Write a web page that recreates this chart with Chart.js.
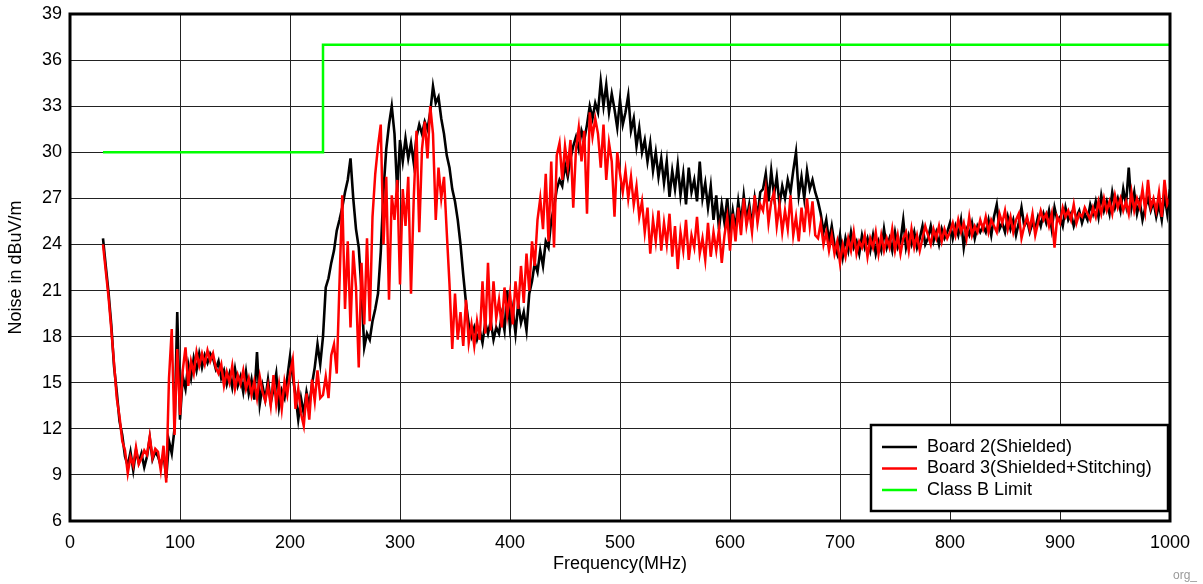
<!DOCTYPE html>
<html>
<head>
<meta charset="utf-8">
<script src="https://cdn.jsdelivr.net/npm/chart.js@4.4.0/dist/chart.umd.min.js"></script>
<style>
    html, body { margin: 0; padding: 0; background: #fff; }
    #wrap { width: 1203px; height: 584px; }
</style>
</head>
<body>
<div id="wrap"><canvas id="emiChart" width="1203" height="584"></canvas></div>
<script>
// frequency grid of the scans: 30 MHz to 1000 MHz, one sample every 2.5 MHz
const FREQ_START = 30;
const FREQ_STEP = 2.5;

// Board 2 (Shielded), dBuV/m
const board2 = [
    24.4, 22.6, 20.9, 18.8, 16.1, 14.4, 12.5, 11.6, 10.2, 9.6, 10.5, 9.3, 10.6, 9.8, 10.4, 9.5, 10.2, 11.4, 10.0, 10.5,
    10.2, 9.6, 10.4, 8.8, 11.2, 10.4, 12.0, 19.6, 12.6, 15.4, 14.6, 16.2, 15.3, 16.6, 15.8, 16.9, 16.0, 16.8, 16.3, 16.9,
    16.6, 15.9, 16.4, 15.3, 15.8, 14.9, 15.6, 14.7, 15.9, 14.8, 15.4, 14.4, 15.7, 14.3, 15.2, 13.9, 17.0, 13.6, 14.8, 13.9,
    15.2, 13.7, 14.6, 15.6, 13.4, 14.5, 14.0, 15.3, 16.7, 15.4, 14.2, 12.6, 14.0, 13.0, 14.4, 13.5, 14.9, 16.0, 17.5, 16.2,
    18.0, 21.2, 21.8, 22.8, 23.6, 24.9, 25.6, 26.4, 27.4, 28.2, 29.6, 27.0, 25.0, 23.8, 21.0, 17.3, 18.2, 17.8, 19.0, 19.8,
    20.8, 23.5, 27.5, 30.2, 31.8, 33.0, 31.2, 27.4, 30.8, 29.4, 30.9, 29.6, 30.6, 29.3, 31.0, 31.8, 31.2, 32.0, 31.5, 32.6,
    34.3, 33.2, 33.6, 32.2, 31.2, 29.8, 29.0, 27.6, 26.8, 25.6, 24.0, 22.0, 20.2, 18.8, 18.0, 18.6, 17.8, 18.4, 17.6, 18.9,
    18.2, 19.0, 17.8, 18.6, 18.2, 19.4, 18.4, 21.0, 18.6, 19.8, 18.2, 20.2, 18.9, 19.6, 18.4, 20.8, 21.6, 22.8, 22.2, 23.6,
    22.6, 24.2, 23.8, 25.6, 26.4, 27.6, 28.2, 27.8, 29.2, 28.4, 29.6, 30.4, 31.0, 30.2, 31.4, 30.8, 31.8, 33.0, 32.2, 33.2,
    32.6, 34.6, 33.0, 34.4, 32.6, 33.8, 32.8, 31.6, 33.4, 31.8, 32.6, 33.7, 31.4, 32.2, 30.4, 31.6, 30.0, 30.8, 29.4, 30.6,
    28.8, 30.0, 28.4, 29.6, 28.0, 29.4, 27.1, 28.8, 27.6, 29.2, 27.2, 28.6, 26.6, 29.0, 27.4, 28.2, 26.8, 29.4, 27.0, 28.0,
    26.4, 27.8, 25.6, 27.2, 25.0, 26.6, 25.4, 27.0, 24.8, 26.2, 25.0, 26.8, 25.4, 27.2, 25.6, 26.6, 25.2, 27.0, 25.8, 27.4,
    27.6, 28.6, 26.8, 28.8, 27.2, 28.4, 26.6, 27.8, 27.0, 28.2, 27.4, 28.8, 30.0, 27.2, 28.4, 27.0, 28.8, 27.6, 28.2, 27.4,
    26.8, 26.0, 24.8, 25.6, 24.2, 25.2, 24.0, 23.4, 24.6, 23.2, 24.4, 23.6, 24.8, 23.8, 24.2, 23.4, 24.6, 23.8, 24.4, 23.6,
    24.6, 23.4, 24.2, 23.6, 25.0, 23.8, 24.4, 23.6, 24.8, 23.8, 24.2, 25.6, 23.8, 24.6, 24.0, 24.8, 23.8, 24.4, 25.2, 24.0,
    24.4, 25.2, 24.2, 24.8, 24.0, 25.0, 24.4, 24.8, 25.4, 24.4, 25.2, 24.6, 25.6, 23.8, 25.0, 24.6, 25.4, 24.4, 25.2, 24.8,
    25.2, 24.8, 25.6, 24.6, 25.8, 26.6, 25.0, 25.4, 24.8, 25.8, 25.0, 25.6, 24.6, 25.4, 26.4, 25.2, 25.6, 24.8, 25.4, 25.0,
    25.8, 25.2, 26.0, 25.4, 26.2, 25.0, 26.4, 25.6, 25.8, 25.2, 26.4, 25.6, 26.0, 25.2, 25.8, 26.2, 25.4, 26.0, 25.6, 26.6,
    26.0, 26.8, 25.8, 27.2, 26.2, 26.8, 26.0, 27.4, 26.4, 27.0, 26.2, 27.6, 26.6, 29.0, 26.4, 27.4, 26.0, 26.8, 25.6, 26.4,
    27.0, 26.2, 26.8, 25.8, 26.6, 25.6, 27.2, 26.0, 27.6
];

// Board 3 (Shielded+Stitching), dBuV/m
const board3 = [
    24.0, 22.3, 20.6, 18.5, 16.3, 14.0, 12.8, 11.2, 10.6, 9.1, 10.2, 9.6, 10.8, 9.7, 10.1, 10.6, 10.3, 11.5, 10.1, 10.7,
    10.5, 9.3, 10.9, 8.5, 15.3, 18.5, 11.6, 17.2, 12.9, 15.8, 17.3, 14.8, 16.4, 15.6, 17.0, 16.1, 16.9, 16.2, 17.1, 16.4,
    16.9, 16.0, 15.6, 16.2, 14.8, 15.7, 15.0, 16.1, 14.6, 15.5, 14.9, 15.8, 14.6, 15.3, 14.2, 15.1, 14.0, 15.4, 14.4, 13.8,
    14.8, 13.5, 15.5, 13.6, 14.9, 13.3, 15.1, 14.2, 15.6, 16.5, 13.3, 14.6, 13.0, 12.2, 14.3, 12.6, 15.2, 13.8, 15.8, 14.0,
    14.2, 15.4, 14.0, 16.8, 17.5, 15.6, 21.5, 27.2, 19.8, 24.2, 18.6, 23.6, 21.2, 16.0, 22.8, 18.8, 24.4, 19.0, 25.8, 28.6,
    30.4, 31.8, 24.0, 28.4, 20.4, 27.2, 25.6, 28.2, 21.4, 27.6, 25.2, 28.4, 20.8, 27.0, 31.4, 24.8, 30.2, 32.0, 29.6, 33.0,
    31.2, 25.6, 29.0, 27.0, 28.4, 24.8, 21.4, 17.2, 20.8, 17.8, 19.6, 17.4, 20.4, 17.6, 18.8, 17.4, 19.0, 17.8, 21.6, 18.2,
    22.8, 18.4, 21.6, 19.2, 20.4, 18.6, 21.2, 19.4, 20.8, 18.8, 21.6, 19.8, 22.6, 20.2, 23.4, 21.0, 24.2, 22.6, 25.6, 27.0,
    25.0, 28.6, 24.2, 29.4, 23.8, 29.8, 30.6, 28.2, 30.4, 29.0, 30.8, 26.4, 30.2, 31.6, 29.4, 31.4, 26.0, 32.6, 31.0, 32.2,
    31.2, 29.0, 31.8, 28.2, 30.6, 29.4, 25.8, 30.0, 28.6, 27.4, 28.8, 27.0, 28.4, 26.6, 27.8, 25.8, 26.8, 24.8, 26.4, 23.4,
    25.6, 24.2, 26.2, 23.6, 25.4, 24.0, 26.0, 23.2, 25.2, 22.4, 24.8, 23.6, 25.6, 23.0, 24.6, 23.8, 25.8, 23.4, 24.4, 23.0,
    25.4, 23.2, 24.8, 23.6, 25.0, 22.8, 24.6, 25.8, 23.6, 26.0, 24.2, 26.4, 24.6, 27.0, 25.2, 26.2, 24.8, 27.2, 25.4, 26.6,
    26.2, 27.6, 25.4, 26.8, 27.4, 25.2, 26.6, 24.8, 26.2, 25.0, 27.2, 24.6, 25.8, 24.2, 26.4, 24.8, 27.0, 25.2, 26.8, 24.6,
    24.4, 25.4, 24.0, 24.8, 23.6, 24.6, 23.4, 24.2, 22.8, 24.0, 23.2, 24.4, 23.6, 24.8, 23.4, 24.2, 23.8, 24.6, 23.2, 24.4,
    23.8, 24.8, 23.4, 24.6, 23.6, 24.4, 23.8, 25.0, 23.6, 24.6, 23.4, 24.4, 24.8, 23.6, 25.0, 23.8, 24.6, 23.6, 24.4, 25.2,
    24.6, 24.0, 25.0, 24.4, 25.2, 24.2, 25.0, 24.4, 24.8, 25.4, 24.6, 25.6, 24.8, 25.4, 24.4, 25.8, 24.6, 25.2, 24.8, 25.6,
    25.0, 25.8, 24.8, 25.6, 25.2, 24.8, 26.0, 25.4, 26.2, 25.0, 25.8, 24.8, 25.6, 26.0, 24.4, 25.2, 25.8, 25.0, 26.0, 24.6,
    25.4, 26.2, 25.6, 26.0, 25.2, 26.0, 23.8, 25.8, 25.4, 26.4, 25.8, 26.2, 25.6, 26.6, 25.4, 26.0, 25.8, 26.4, 26.0, 25.6,
    26.4, 25.8, 26.8, 26.0, 27.0, 26.2, 26.8, 26.0, 27.2, 26.4, 27.0, 26.2, 26.8, 26.0, 27.4, 26.2, 27.0, 26.4, 27.6, 26.2,
    28.2, 26.4, 27.0, 26.2, 27.4, 25.8, 28.2, 26.6, 27.0
];

// Class B limit (stepped)
const limitFreq = [30, 230, 230, 1000];
const limitLevel = [30, 30, 37, 37];

const xTicks = [0, 100, 200, 300, 400, 500, 600, 700, 800, 900, 1000];
const FONT = "'Liberation Sans', Arial, sans-serif";

/**
 *
 */
function _toPoints(values) {
    const points = [];
    for (let i = 0; i < values.length; i++) {
        points.push({ x: FREQ_START + i * FREQ_STEP, y: values[i] });
    }
    return points;
}

/**
 *
 */
function _limitPoints() {
    const points = [];
    for (let i = 0; i < limitFreq.length; i++) {
        points.push({ x: limitFreq[i], y: limitLevel[i] });
    }
    return points;
}

// frame around the plot, the boxed legend and the small tag
const framePlugin = {
    id: "frame",
    afterDatasetsDraw(chart) {
        const ctx = chart.ctx;
        const a = chart.chartArea;
        ctx.save();
        ctx.strokeStyle = "#000";
        ctx.lineWidth = 3;
        ctx.strokeRect(a.left, a.top, a.right - a.left, a.bottom - a.top);

        // legend box
        const w = 297;
        const h = 86;
        const bx = a.right - 2 - w;
        const by = a.bottom - 10 - h;
        ctx.fillStyle = "#fff";
        ctx.fillRect(bx, by, w, h);
        ctx.lineWidth = 2.5;
        ctx.strokeRect(bx, by, w, h);

        ctx.font = "18px " + FONT;
        ctx.textBaseline = "middle";
        const sets = chart.data.datasets;
        for (let i = 0; i < sets.length; i++) {
            const y = by + 22 + i * 21.5;
            ctx.strokeStyle = sets[i].borderColor;
            ctx.lineWidth = 2.5;
            ctx.beginPath();
            ctx.moveTo(bx + 11, y);
            ctx.lineTo(bx + 46, y);
            ctx.stroke();
            ctx.fillStyle = "#000";
            ctx.fillText(sets[i].label, bx + 56, y);
        }

        ctx.font = "12px " + FONT;
        ctx.fillStyle = "#999";
        ctx.textAlign = "right";
        ctx.fillText("org_", 1197, 576);
        ctx.restore();
    },
};

const config = {
    type: "line",
    data: {
        datasets: [
            {
                label: "Board 2(Shielded)",
                data: _toPoints(board2),
                borderColor: "#000000",
                borderWidth: 2.6,
                order: 2,
            },
            {
                label: "Board 3(Shielded+Stitching)",
                data: _toPoints(board3),
                borderColor: "#ff0000",
                borderWidth: 2.5,
                order: 1,
            },
            {
                label: "Class B Limit",
                data: _limitPoints(),
                borderColor: "#00ff00",
                borderWidth: 2.5,
                order: 0,
            },
        ],
    },
    options: {
        responsive: false,
        animation: false,
        parsing: false,
        elements: {
            point: { radius: 0 },
            line: { tension: 0, fill: false },
        },
        layout: {
            padding: { top: 14, right: 33, left: 0, bottom: 0 },
        },
        plugins: {
            legend: { display: false },
            tooltip: { enabled: false },
        },
        scales: {
            x: {
                type: "linear",
                min: 0,
                max: 1000,
                afterBuildTicks: (axis) => {
                    axis.ticks = xTicks.map((v) => ({ value: v }));
                },
                afterFit: (axis) => {
                    axis.height = 63;
                },
                grid: { color: "#222", lineWidth: 1, drawTicks: false },
                border: { display: false },
                ticks: {
                    color: "#000",
                    padding: 11,
                    maxRotation: 0,
                    font: { family: FONT, size: 18 },
                    callback: (v) => String(v),
                },
                title: {
                    display: true,
                    text: "Frequency(MHz)",
                    color: "#000",
                    font: { family: FONT, size: 18 },
                    padding: { top: 0, bottom: 9 },
                },
            },
            y: {
                min: 6,
                max: 39,
                ticks: {
                    stepSize: 3,
                    color: "#000",
                    padding: 8,
                    font: { family: FONT, size: 18 },
                },
                afterFit: (axis) => {
                    axis.width = 70;
                    axis.paddingTop = 0;
                    axis.paddingBottom = 0;
                },
                grid: { color: "#222", lineWidth: 1, drawTicks: false },
                border: { display: false },
                title: {
                    display: true,
                    text: "Noise in dBuV/m",
                    color: "#000",
                    font: { family: FONT, size: 18 },
                    padding: { top: 5, bottom: 0 },
                },
            },
        },
    },
    plugins: [framePlugin],
};

new Chart(document.getElementById("emiChart"), config);
</script>
</body>
</html>
